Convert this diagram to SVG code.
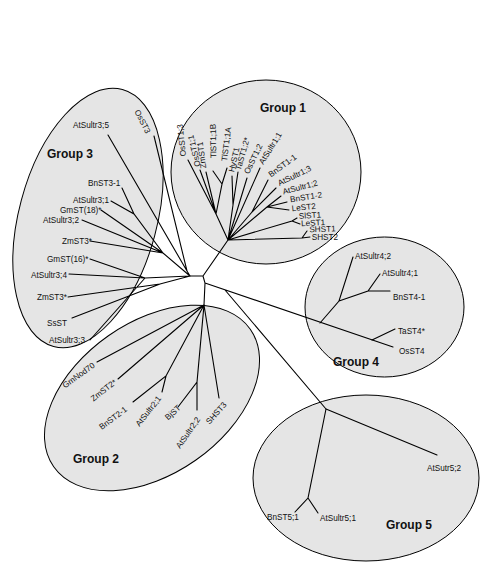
<svg xmlns="http://www.w3.org/2000/svg" width="493" height="575" viewBox="0 0 493 575">
<style>
.grp{fill:#e5e5e5;stroke:#000;stroke-width:1}
.ln{fill:none;stroke:#000;stroke-width:1.1;stroke-linecap:round}
.lb{font-family:"Liberation Sans",Arial,sans-serif;font-size:8.2px;fill:#111}
.gt{font-family:"Liberation Sans",Arial,sans-serif;font-size:12px;font-weight:bold;fill:#111}
</style>
<rect width="493" height="575" fill="#fff"/>
<g id="areas">
<ellipse id="area1" class="grp" cx="266" cy="172" rx="95" ry="92"/>
<ellipse id="area3" class="grp" cx="88" cy="218" rx="69" ry="133" transform="rotate(15 88 218)"/>
<ellipse id="area2" class="grp" cx="152" cy="398" rx="120" ry="76" transform="rotate(-35 152 398)"/>
<ellipse id="area4" class="grp" cx="384.5" cy="307" rx="79.5" ry="70"/>
<ellipse id="area5" class="grp" cx="366" cy="478" rx="113" ry="83"/>
</g>
<g id="connectors" class="ln">
<path d="M190,276L203,276M203,276L228,240M203,276L205,283L204,305M205,283L393,347M225,290L326,409"/>
<path d="M326,409L437,455M326,409L308,498L295,512M308,498L318,513"/>
<path d="M320,323L339,301L353,257M339,301L368,291L380,274M368,291L390,291M372,340L395,329"/>
<path d="M204,305L97,362M204,305L118,379M204,305L166,376L133,402M166,376L162,392M204,305L197,382L178,407M197,382L197,410M204,305L219,398"/>
<path d="M190,276L187,271L108,135M187,271L154,136M190,276L163,253L82,220M163,253L101,210M163,253L90,241M163,253L134,214L111,201M134,214L122,188M190,276L145,278L69,274M145,278L90,259M145,278L90,340M190,276L160,284L68,297M160,284L72,318"/>
<path d="M228,240L216,214L188,160M216,214L200,170M216,214L206,172M216,214L222,184L213,171M222,184L227,168M228,240L233,205L232,176M233,205L238,172M228,240L247,178M228,240L260,168M228,240L252,212L268,180M252,212L276,188M228,240L267,207L281,196M267,207L287,202M267,207L289,210M228,240L292,221L297,218M292,221L300,224M228,240L302,238L307,231M302,238L310,237"/>
</g>
<g id="group1">
<text class="gt" x="260" y="112">Group 1</text>
<text class="lb" transform="translate(186 156) rotate(-96)">OsST1;3</text>
<text class="lb" transform="translate(200.6 166) rotate(-103)">OsST1;1</text>
<text class="lb" transform="translate(206.3 168) rotate(-98)">ZmST1</text>
<text class="lb" transform="translate(216.3 158) rotate(-91)">TlST1;1B</text>
<text class="lb" transform="translate(227 161.4) rotate(-83)">TlST1;1A</text>
<text class="lb" transform="translate(234 172.4) rotate(-77)">HvST1</text>
<text class="lb" transform="translate(240.6 170.8) rotate(-74)">TaST1;2*</text>
<text class="lb" transform="translate(248.7 174.6) rotate(-64)">OsST1;2</text>
<text class="lb" transform="translate(263.2 164.9) rotate(-58)">AtSultr1;1</text>
<text class="lb" transform="translate(271 177.4) rotate(-36)">BnST1-1</text>
<text class="lb" transform="translate(279.6 186) rotate(-26)">AtSultr1;3</text>
<text class="lb" transform="translate(283.5 194.6) rotate(-15)">AtSultr1;2</text>
<text class="lb" transform="translate(290.5 202.3) rotate(-9)">BnST1-2</text>
<text class="lb" transform="translate(292 211.3) rotate(-6)">LeST2</text>
<text class="lb" transform="translate(299 219) rotate(-4)">SlST1</text>
<text class="lb" transform="translate(301.2 226.3) rotate(-3)">LeST1</text>
<text class="lb" transform="translate(309.4 232.3) rotate(-2)">SHST1</text>
<text class="lb" x="311.7" y="239.7">SHST2</text>
</g>
<g id="group3">
<text class="gt" x="47" y="158">Group 3</text>
<text class="lb" transform="translate(134.3 111.4) rotate(63)">OsST3</text>
<text class="lb" x="73" y="128">AtSultr3;5</text>
<text class="lb" x="88" y="186">BnST3-1</text>
<text class="lb" x="73" y="203">AtSultr3;1</text>
<text class="lb" x="60" y="213">GmST(18)*</text>
<text class="lb" x="43" y="223">AtSultr3;2</text>
<text class="lb" x="62" y="244">ZmST3*</text>
<text class="lb" x="47" y="262">GmST(16)*</text>
<text class="lb" x="31" y="278">AtSultr3;4</text>
<text class="lb" x="37" y="300">ZmST3*</text>
<text class="lb" x="47" y="326">SsST</text>
<text class="lb" x="49" y="343">AtSultr3;3</text>
</g>
<g id="group2">
<text class="gt" x="73" y="463">Group 2</text>
<text class="lb" transform="translate(65 388.4) rotate(-35.6)">GmNod70</text>
<text class="lb" transform="translate(93.5 401.7) rotate(-38)">ZmST2*</text>
<text class="lb" transform="translate(101.8 430) rotate(-37)">BnST2-1</text>
<text class="lb" transform="translate(139.5 427) rotate(-52)">AtSultr2;1</text>
<text class="lb" transform="translate(168 420.5) rotate(-42)">BjST</text>
<text class="lb" transform="translate(180 449) rotate(-55)">AtSultr2;2</text>
<text class="lb" transform="translate(209.5 424.7) rotate(-48)">SHST3</text>
</g>
<g id="group4">
<text class="gt" x="333" y="366">Group 4</text>
<text class="lb" x="355" y="259">AtSultr4;2</text>
<text class="lb" x="382" y="276.3">AtSultr4;1</text>
<text class="lb" x="393" y="299.7">BnST4-1</text>
<text class="lb" x="398" y="333.7">TaST4*</text>
<text class="lb" x="399" y="354">OsST4</text>
</g>
<g id="group5">
<text class="gt" x="386" y="529">Group 5</text>
<text class="lb" x="427" y="471">AtSutr5;2</text>
<text class="lb" x="267" y="520">BnST5;1</text>
<text class="lb" x="320" y="521">AtSultr5;1</text>
</g>
</svg>
